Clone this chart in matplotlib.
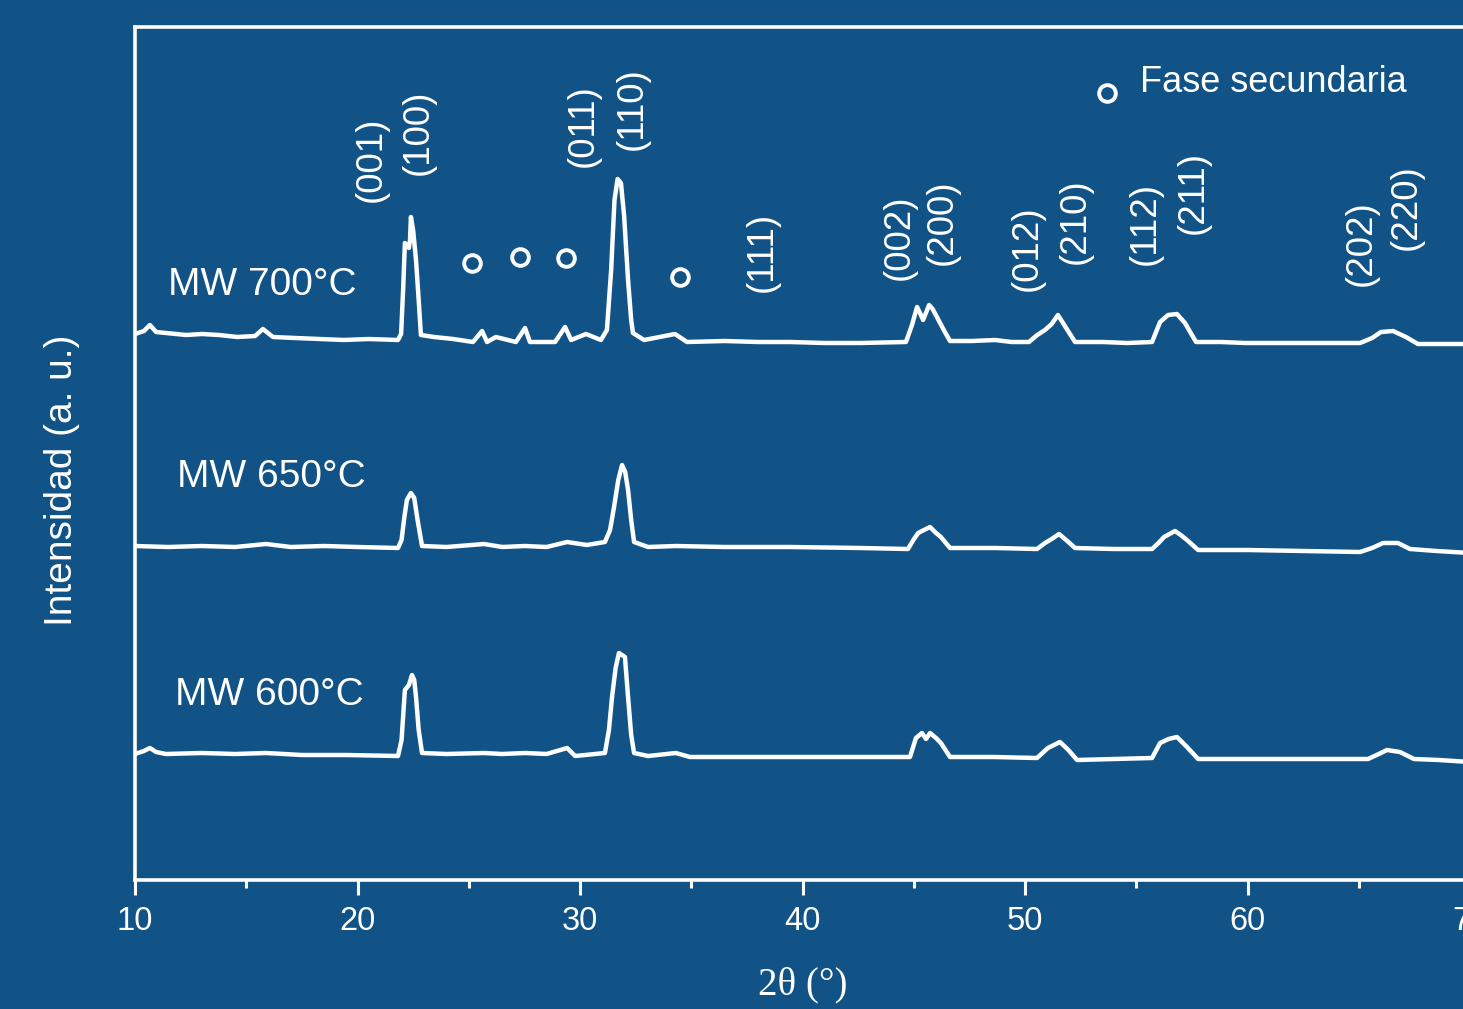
import matplotlib.pyplot as plt

plt.rcParams['font.family'] = ['Liberation Sans', 'DejaVu Sans']

BG = '#115386'

# 2theta / intensity (a.u.)
tt_700 = [10.0, 10.40, 10.67, 10.95, 11.39, 12.3, 13.0, 13.78, 14.6, 15.4, 15.75, 16.20, 17.2, 18.3, 19.39,
          20.5, 21.82, 21.96, 22.05, 22.13, 22.31, 22.36, 22.40, 22.50, 22.63, 22.75, 22.85, 23.44, 24.3,
          25.19, 25.60, 25.82, 26.22, 27.12, 27.53, 27.75, 28.88, 29.33, 29.60, 30.27, 30.94, 31.21,
          31.40, 31.55, 31.69, 31.84, 31.98, 32.16, 32.30, 32.38, 32.88, 34.27, 34.81, 36.5, 38.0,
          39.44, 41.0, 42.58, 44.65, 44.92, 45.15, 45.30, 45.42, 45.69, 45.85, 46.04, 46.35, 46.63,
          47.6, 48.65, 49.4, 50.18, 50.55, 50.90, 51.20, 51.48, 51.85, 52.25, 53.5, 54.6, 55.71, 56.07,
          56.43, 56.83, 57.19, 57.45, 57.69, 58.8, 59.89, 61.5, 63.2, 65.06, 65.6, 66.00, 66.54, 67.12,
          67.66, 68.7, 70.0]
int_700 = [546, 549, 555, 548, 547, 545, 546, 545, 543, 544, 551, 543, 542, 541, 540,
           541, 540, 546, 590, 637, 632, 640, 663, 650, 620, 580, 545, 543, 541,
           538, 549, 538, 543, 538, 552, 538, 538, 553, 540, 546, 540, 550,
           610, 680, 701, 697, 665, 600, 560, 547, 540, 546, 538, 539, 538,
           538, 537, 537, 538, 555, 573, 566, 560, 575, 571, 563, 550, 539,
           539, 540, 538, 538, 545, 550, 556, 565, 552, 538, 538, 537, 538, 558,
           565, 566, 557, 547, 538, 538, 537, 537, 537, 537, 542, 548, 549, 543,
           536, 536, 536]

tt_650 = [10.0, 11.5, 13.0, 14.5, 15.89, 17.0, 18.5, 20.0, 21.82, 21.98, 22.10, 22.22, 22.40, 22.55,
          22.70, 22.90, 24.0, 25.69, 26.5, 27.53, 28.5, 29.42, 30.31, 31.12, 31.35, 31.53, 31.72,
          31.89, 32.03, 32.16, 32.30, 32.43, 33.06, 34.31, 36.5, 39.44, 42.58, 44.74, 45.01, 45.20,
          45.37, 45.73, 46.00, 46.22, 46.63, 48.65, 50.54, 50.90, 51.20, 51.53, 51.90, 52.25, 54.0,
          55.71, 56.00, 56.25, 56.74, 57.00, 57.28, 57.78, 60.0, 62.5, 65.06, 65.60, 66.09, 66.76,
          67.30, 68.5, 70.0]
int_650 = [334, 333, 334, 333, 336, 333, 334, 333, 332, 340, 362, 380, 387, 382,
           360, 334, 333, 336, 333, 334, 333, 338, 335, 338, 350, 373, 400,
           415, 408, 390, 360, 338, 333, 334, 333, 333, 332, 331, 341, 347,
           349, 353, 347, 343, 332, 332, 331, 337, 341, 346, 339, 332, 331,
           331, 337, 343, 349, 345, 340, 330, 330, 329, 328, 332, 337, 337,
           331, 329, 327]

tt_600 = [10.0, 10.40, 10.67, 10.95, 11.39, 13.0, 14.5, 15.89, 17.5, 19.5, 21.82, 21.98, 22.13, 22.31,
          22.45, 22.55, 22.63, 22.75, 22.90, 24.0, 25.69, 26.5, 27.53, 28.5, 29.42, 29.78, 31.12,
          31.30, 31.44, 31.60, 31.75, 32.02, 32.16, 32.30, 32.43, 33.06, 34.31, 34.94, 37.0, 40.0,
          42.58, 44.83, 45.10, 45.37, 45.55, 45.73, 46.00, 46.22, 46.63, 48.6, 50.54, 51.03, 51.57,
          51.95, 52.34, 54.0, 55.71, 56.07, 56.45, 56.83, 57.28, 57.78, 60.0, 62.5, 65.42, 65.90,
          66.27, 66.85, 67.48, 68.6, 70.0]
int_600 = [126, 129, 132, 128, 126, 127, 126, 127, 125, 125, 124, 140, 190, 195,
           205, 200, 183, 150, 127, 126, 127, 126, 127, 126, 132, 124, 127,
           150, 183, 212, 227, 223, 183, 145, 127, 124, 127, 123, 123, 123,
           123, 123, 142, 147, 141, 147, 142, 137, 123, 123, 122, 132, 138,
           130, 120, 121, 122, 137, 141, 143, 133, 121, 121, 121, 121, 126,
           130, 128, 121, 120, 118]

sample_labels = ['MW 700°C', 'MW 650°C', 'MW 600°C']
sample_label_x = [11.48, 11.89, 11.80]
sample_label_y = [595, 403, 185]

hkl_labels = ['(001)', '(100)', '(011)', '(110)', '(111)', '(002)', '(200)',
              '(012)', '(210)', '(112)', '(211)', '(202)', '(220)']
hkl_x = [20.61, 22.72, 30.13, 32.34, 38.18, 44.34, 46.27, 50.09, 52.25, 55.39, 57.55, 65.10, 67.12]
hkl_y = [721, 748, 754, 771, 628, 643, 658, 632, 659, 657, 688, 637, 673]

sec_x = [25.15, 27.31, 29.38, 34.50]
sec_y = [617, 623, 622, 603]

fig = plt.figure(figsize=(14.63, 10.09), dpi=100, facecolor=BG)
ax = fig.add_axes([135 / 1463, 129 / 1009, 1335 / 1463, 853 / 1009], facecolor=BG)

for tt, inten in [(tt_700, int_700), (tt_650, int_650), (tt_600, int_600)]:
    ax.plot(tt, inten, color='white', lw=3.2, solid_joinstyle='round')

for lab, x, y in zip(sample_labels, sample_label_x, sample_label_y):
    ax.text(x, y, lab, color='white', fontsize=28, ha='left', va='center')

for lab, x, y in zip(hkl_labels, hkl_x, hkl_y):
    ax.text(x, y, lab, color='white', fontsize=26.5, rotation=90, ha='center', va='center')

ax.plot(sec_x, sec_y, 'o', ms=12, mfc='none', mec='white', mew=2.8, ls='none')

# legend drawn by hand
ax.plot([53.69], [787], 'o', ms=12, mfc='none', mec='white', mew=2.8)
ax.text(55.17, 798, 'Fase secundaria', color='white', fontsize=26, ha='left', va='center')

ax.set_xlim(10, 70)
ax.set_ylim(0, 853)
ax.set_xticks([10, 20, 30, 40, 50, 60, 70])
ax.set_xticks([15, 25, 35, 45, 55, 65], minor=True)
ax.set_yticks([])
ax.tick_params(axis='x', which='major', direction='out', length=11, width=2.2,
               colors='white', labelsize=23.5, pad=8)
ax.tick_params(axis='x', which='minor', direction='out', length=6, width=2.2, colors='white')
for side in ['left', 'top', 'bottom']:
    ax.spines[side].set_color('white')
    ax.spines[side].set_linewidth(2.6)
ax.spines['right'].set_visible(False)

fig.text(62 / 1463, 1 - 480 / 1009, 'Intensidad (a. u.)', color='white', fontsize=28,
         rotation=90, ha='center', va='center')
fig.text(803 / 1463, 1 - 985 / 1009, '2θ (°)', color='white', fontsize=28,
         family=['Liberation Serif', 'DejaVu Serif'], ha='center', va='center')

fig.savefig('out.png', dpi=100, facecolor=BG)
